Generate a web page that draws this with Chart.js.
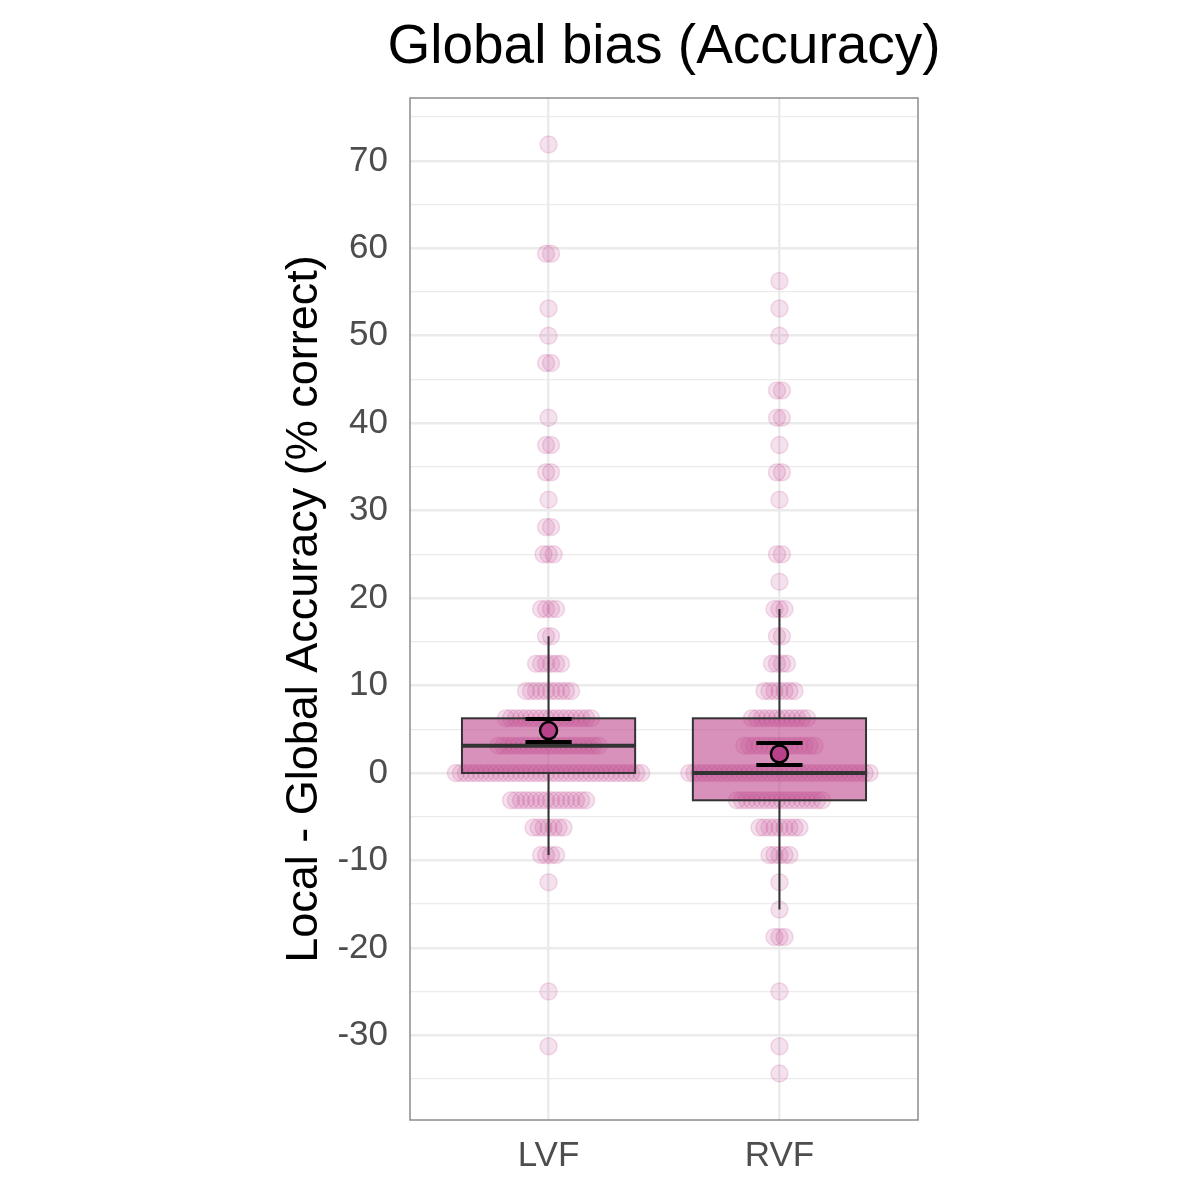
<!DOCTYPE html>
<html><head><meta charset="utf-8">
<script src="https://cdn.jsdelivr.net/npm/chart.js@4.4.1/dist/chart.umd.min.js"></script>
<style>html,body{margin:0;padding:0;background:#fff}#wrap{width:1200px;height:1200px}</style>
</head><body><div id="wrap"><canvas id="c" width="1200" height="1200"></canvas></div>
<script>
// ---- data ----
const chartTitle = 'Global bias (Accuracy)';
const categories = ['LVF', 'RVF'];
const lvfValues = [71.875, 59.375, 53.125, 50, 46.875, 40.625, 37.5, 34.375, 31.25, 28.125, 25, 18.75, 15.625, 12.5, 9.375, 6.25, 3.125, 0, -3.125, -6.25, -9.375, -12.5, -25, -31.25];
const lvfCounts = [1, 2, 1, 1, 2, 1, 2, 2, 1, 2, 3, 4, 2, 6, 10, 18, 21, 38, 16, 7, 4, 1, 1, 1];
const rvfValues = [56.25, 53.125, 50, 43.75, 40.625, 37.5, 34.375, 31.25, 25, 21.875, 18.75, 15.625, 12.5, 9.375, 6.25, 3.125, 0, -3.125, -6.25, -9.375, -12.5, -15.625, -18.75, -25, -31.25, -34.375];
const rvfCounts = [1, 1, 1, 2, 2, 1, 2, 1, 2, 1, 3, 2, 4, 7, 12, 15, 37, 18, 9, 5, 1, 1, 3, 1, 1, 1];
const boxQ1 = [0, -3.125];
const boxMedian = [3.125, 0];
const boxQ3 = [6.25, 6.25];
const whiskerLow = [-9.375, -15.625];
const whiskerHigh = [15.625, 18.75];
const meanValues = [4.85, 2.17];
const seLow = [3.54, 0.91];
const seHigh = [6.17, 3.43];
const yMajorTicks = [-30, -20, -10, 0, 10, 20, 30, 40, 50, 60, 70];
const yMinorTicks = [-35, -25, -15, -5, 5, 15, 25, 35, 45, 55, 65, 75];

// ---- layout helpers ----
const SWARM_STEP = 0.0217; // horizontal spacing of stacked points, x units
function swarm(values, counts, pos) {
  const pts = [];
  values.forEach((v, k) => {
    const n = counts[k];
    for (let i = 0; i < n; i++) pts.push({ x: pos + (i - (n - 1) / 2) * SWARM_STEP, y: v });
  });
  return pts;
}
const PINK = '193,70,143';
const FONT = '"Liberation Sans", Arial, Helvetica, sans-serif';

const boxPlugin = {
  id: 'boxes',
  afterDatasetDraw(chart, args) {
    if (args.index !== 1) return;
    const ctx = chart.ctx, xs = chart.scales.x, ys = chart.scales.y;
    ctx.save();
    categories.forEach((c, i) => {
      const xc = xs.getPixelForValue(i + 1);
      const hw = xs.getPixelForValue(i + 1 + 0.375) - xc;
      const yq1 = ys.getPixelForValue(boxQ1[i]);
      const yq3 = ys.getPixelForValue(boxQ3[i]);
      const ymed = ys.getPixelForValue(boxMedian[i]);
      const ylo = ys.getPixelForValue(whiskerLow[i]);
      const yhi = ys.getPixelForValue(whiskerHigh[i]);
      ctx.strokeStyle = '#333333';
      ctx.lineWidth = 2;
      ctx.beginPath();
      ctx.moveTo(xc, yq3); ctx.lineTo(xc, yhi);
      ctx.moveTo(xc, yq1); ctx.lineTo(xc, ylo);
      ctx.stroke();
      ctx.fillStyle = 'rgba(190,72,140,0.6)';
      ctx.fillRect(xc - hw, yq3, 2 * hw, yq1 - yq3);
      ctx.strokeRect(xc - hw, yq3, 2 * hw, yq1 - yq3);
      ctx.lineWidth = 4;
      ctx.beginPath();
      ctx.moveTo(xc - hw, ymed); ctx.lineTo(xc + hw, ymed);
      ctx.stroke();
      // SE error bars
      const ew = xs.getPixelForValue(i + 1 + 0.1) - xc;
      const ya = ys.getPixelForValue(seLow[i]);
      const yb = ys.getPixelForValue(seHigh[i]);
      ctx.strokeStyle = '#000000';
      ctx.lineWidth = 4;
      ctx.beginPath();
      ctx.moveTo(xc - ew, ya); ctx.lineTo(xc + ew, ya);
      ctx.moveTo(xc - ew, yb); ctx.lineTo(xc + ew, yb);
      ctx.stroke();
      ctx.lineWidth = 2;
      ctx.beginPath();
      ctx.moveTo(xc, ya); ctx.lineTo(xc, yb);
      ctx.stroke();
    });
    ctx.restore();
  },
  afterDraw(chart) {
    const { left, top, right, bottom } = chart.chartArea;
    const ctx = chart.ctx;
    ctx.save();
    ctx.strokeStyle = '#8c8c8c';
    ctx.lineWidth = 1.5;
    ctx.strokeRect(left, top, right - left, bottom - top);
    // title, centred over the panel
    ctx.fillStyle = '#000000';
    ctx.font = '55px ' + FONT;
    ctx.textAlign = 'center';
    ctx.textBaseline = 'alphabetic';
    ctx.fillText(chartTitle, (left + right) / 2, 63);
    ctx.restore();
  }
};

new Chart(document.getElementById('c'), {
  type: 'scatter',
  data: {
    datasets: [
      { label: 'LVF', data: swarm(lvfValues, lvfCounts, 1), order: 3,
        pointRadius: 8.5, pointBorderWidth: 1.5,
        backgroundColor: `rgba(${PINK},0.16)`, borderColor: `rgba(${PINK},0.18)` },
      { label: 'RVF', data: swarm(rvfValues, rvfCounts, 2), order: 2,
        pointRadius: 8.5, pointBorderWidth: 1.5,
        backgroundColor: `rgba(${PINK},0.16)`, borderColor: `rgba(${PINK},0.18)` },
      { label: 'mean', data: meanValues.map((m, i) => ({ x: i + 1, y: m })), order: 1,
        pointRadius: 8.5, pointBorderWidth: 2.5,
        backgroundColor: '#b8428a', borderColor: '#000000' }
    ]
  },
  options: {
    responsive: false,
    animation: false,
    devicePixelRatio: 1,
    layout: { padding: { left: 250, right: 282, top: 98, bottom: 0 } },
    plugins: {
      legend: { display: false },
      tooltip: { enabled: false },
      title: { display: false }
    },
    scales: {
      x: {
        type: 'linear', min: 0.4, max: 2.6,
        afterBuildTicks: s => { s.ticks = [{ value: 1 }, { value: 2 }]; },
        afterFit: s => { s.height = 80; },
        border: { display: false },
        grid: { color: '#ebebeb', lineWidth: 2.5, drawTicks: false },
        ticks: {
          padding: 15, color: '#4d4d4d', font: { family: FONT, size: 35 },
          callback: v => categories[v - 1] || ''
        }
      },
      y: {
        type: 'linear', min: -39.6875, max: 77.1875,
        afterBuildTicks: s => {
          s.ticks = yMajorTicks.concat(yMinorTicks).sort((a, b) => a - b).map(v => ({ value: v }));
        },
        afterFit: s => { s.width = 160; },
        border: { display: false },
        grid: {
          color: '#ebebeb', drawTicks: false,
          lineWidth: c => (yMajorTicks.includes(c.tick && c.tick.value) ? 2.5 : 1.3)
        },
        ticks: {
          padding: 22, color: '#4d4d4d', font: { family: FONT, size: 35 },
          callback: v => (yMajorTicks.includes(v) ? String(v) : '')
        },
        title: {
          display: true, text: 'Local - Global Accuracy (% correct)', color: '#000000',
          font: { family: FONT, size: 45 }, padding: { top: 28, bottom: 0 }
        }
      }
    }
  },
  plugins: [boxPlugin]
});
</script></body></html>
